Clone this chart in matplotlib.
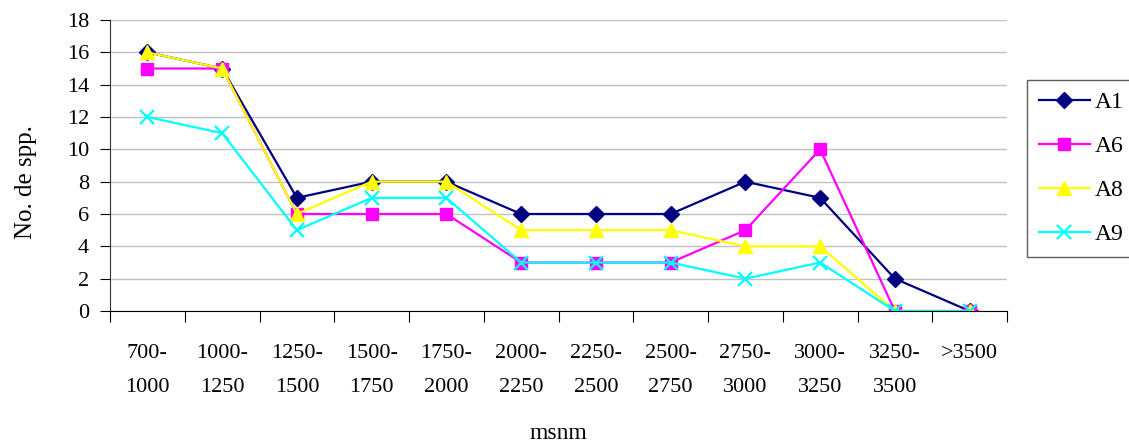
import numpy as np
import matplotlib.pyplot as plt

plt.rcParams['font.family'] = ['Liberation Serif', 'DejaVu Serif']

categories = ["700-\n1000", "1000-\n1250", "1250-\n1500", "1500-\n1750", "1750-\n2000",
              "2000-\n2250", "2250-\n2500", "2500-\n2750", "2750-\n3000", "3000-\n3250",
              "3250-\n3500", ">3500"]
a1 = [16, 15, 7, 8, 8, 6, 6, 6, 8, 7, 2, 0]
a6 = [15, 15, 6, 6, 6, 3, 3, 3, 5, 10, 0, 0]
a8 = [16, 15, 6, 8, 8, 5, 5, 5, 4, 4, 0, 0]
a9 = [12, 11, 5, 7, 7, 3, 3, 3, 2, 3, 0, 0]

W, H = 1129, 446
fig = plt.figure(figsize=(W / 100, H / 100), dpi=100)
ax = fig.add_axes([110 / W, (H - 311) / H, (1007 - 110) / W, (311 - 20) / H])

x = np.arange(len(categories))
ax.plot(x, a1, color='#000080', marker='D', markersize=8, linewidth=1.6, label='A1')
ax.plot(x, a6, color='#ff00ff', marker='s', markersize=8, linewidth=1.6, label='A6')
ax.plot(x, a8, color='#ffff00', marker='^', markersize=10, linewidth=1.6, label='A8')
ax.plot(x, a9, color='#00ffff', marker='x', markersize=10, markeredgewidth=1.6,
        linewidth=1.6, label='A9')

ax.set_xlim(-0.5, len(categories) - 0.5)
ax.set_ylim(0, 18)
ax.set_yticks(range(0, 19, 2))
ax.yaxis.grid(True, color='#c0c0c0', linewidth=1)
ax.set_axisbelow(True)

# category boundaries carry the ticks, labels sit between them
ax.set_xticks(np.arange(-0.5, len(categories), 1))
ax.set_xticklabels([])
ax.set_xticks(x, minor=True)
ax.set_xticklabels(categories, minor=True, fontsize=16, linespacing=2.05)
ax.tick_params(axis='x', which='minor', length=0, pad=24)
ax.tick_params(axis='x', which='major', length=8, direction='out', color='black')
ax.tick_params(axis='y', length=7, direction='out', labelsize=16, pad=8)

for s in ['top', 'right']:
    ax.spines[s].set_visible(False)
ax.spines['left'].set_color('#333333')
ax.spines['bottom'].set_color('black')

ax.set_ylabel('No. de spp.', fontsize=18)
ax.yaxis.set_label_coords((37 - 110) / 897, (311 - 182) / 291)
ax.set_xlabel('msnm', fontsize=17, labelpad=19)

leg = ax.legend(loc='upper left', bbox_to_anchor=(1027 / W, 1 - 80 / H),
                bbox_transform=fig.transFigure, borderaxespad=0, fontsize=17,
                frameon=True, fancybox=False, edgecolor='#333333', borderpad=0.5,
                labelspacing=0.95, handlelength=2.15, handletextpad=0.2)
leg.get_frame().set_linewidth(1)

fig.savefig('out.png', dpi=100)
